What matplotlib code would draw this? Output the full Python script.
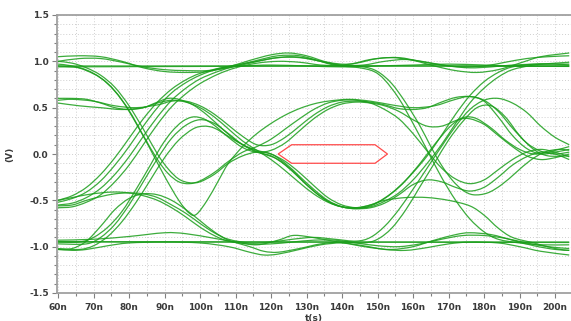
import matplotlib
matplotlib.use("Agg")
import matplotlib.pyplot as plt
import numpy as np
from matplotlib.path import Path
from matplotlib.patches import PathPatch, Polygon

# --- axis text ---
x_ticks = [60, 70, 80, 90, 100, 110, 120, 130, 140, 150, 160, 170, 180, 190, 200]
x_labels = [f"{t}n" for t in x_ticks]
y_ticks = [1.5, 1.0, 0.5, 0.0, -0.5, -1.0, -1.5]
y_labels = ["1.5", "1.0", "0.5", "0.0", "-0.5", "-1.0", "-1.5"]

# --- eye mask (t in ns, V) ---
mask_t = [122.0, 125.8, 149.3, 152.8, 149.3, 125.8]
mask_v = [0.0, 0.1, 0.1, 0.0, -0.1, -0.1]

# --- traces, (t ns, V) ---
flat_top_1 = [(60, 0.95), (204, 0.95)]
flat_top_2 = [(60, 0.94), (100, 0.945), (150, 0.95), (204, 0.945)]
flat_bot_1 = [(60, -0.95), (204, -0.95)]
flat_bot_2 = [(60, -0.945), (204, -0.955)]

top_wave_1 = [(60, 1.05), (66, 1.06), (72, 1.05), (78, 1.0), (84, 0.93), (90, 0.89), (96, 0.88),
              (102, 0.89), (108, 0.94), (114, 1.01), (120, 1.07), (125, 1.09), (130, 1.06), (136, 0.99),
              (142, 0.97), (148, 1.02), (154, 1.04), (160, 1.01), (166, 0.95), (172, 0.9), (178, 0.88),
              (184, 0.91), (190, 0.98), (196, 1.05), (204, 1.09)]
top_wave_2 = [(60, 1.0), (66, 1.03), (72, 1.03), (78, 0.99), (84, 0.94), (90, 0.91), (96, 0.9),
              (102, 0.9), (108, 0.93), (114, 0.98), (120, 1.03), (126, 1.05), (132, 1.02), (138, 0.96),
              (144, 0.98), (150, 1.03), (156, 1.04), (162, 1.0), (168, 0.96), (174, 0.94), (180, 0.95),
              (186, 0.99), (192, 1.03), (198, 1.05), (204, 1.06)]
bot_wave_1 = [(60, -1.03), (64, -1.04), (68, -1.03), (74, -0.99), (80, -0.96), (90, -0.95), (100, -0.96),
              (108, -1.0), (114, -1.06), (118, -1.09), (122, -1.08), (128, -1.03), (134, -0.98),
              (140, -0.96), (146, -0.99), (152, -1.03), (158, -1.04), (164, -1.01), (170, -0.97),
              (176, -0.95), (184, -0.96), (190, -1.0), (196, -1.05), (204, -1.09)]
bot_wave_2 = [(60, -0.93), (70, -0.92), (80, -0.89), (90, -0.85), (96, -0.86), (104, -0.91), (110, -0.95),
              (116, -0.98), (122, -0.93), (126, -0.88), (130, -0.89), (136, -0.93), (142, -0.97),
              (148, -1.01), (154, -1.03), (160, -1.0), (166, -0.93), (172, -0.87), (176, -0.85),
              (182, -0.87), (188, -0.93), (194, -0.99), (200, -1.03), (204, -1.04)]

rise_top_1 = [(60, -0.52), (64, -0.48), (68, -0.41), (72, -0.29), (76, -0.12), (80, 0.08), (84, 0.3),
              (88, 0.5), (92, 0.66), (96, 0.77), (100, 0.85), (105, 0.92), (110, 0.96), (116, 1.0),
              (122, 1.04), (128, 1.04), (134, 1.0), (140, 0.96), (146, 0.96), (152, 1.0), (158, 1.02),
              (164, 0.99), (170, 0.95), (176, 0.93), (182, 0.94), (188, 0.96), (196, 0.97), (204, 0.97)]
rise_top_2 = [(60, -0.55), (64, -0.53), (68, -0.47), (72, -0.37), (76, -0.22), (80, -0.03), (84, 0.19),
              (88, 0.4), (92, 0.58), (96, 0.71), (100, 0.81), (105, 0.89), (110, 0.95), (116, 1.01),
              (122, 1.06), (128, 1.06), (134, 1.0), (140, 0.95), (145, 0.93), (149, 0.89), (152, 0.8),
              (156, 0.6), (160, 0.33), (164, 0.04), (168, -0.25), (172, -0.5), (176, -0.7), (180, -0.84),
              (184, -0.92), (190, -0.96), (196, -0.98), (204, -0.98)]
rise_top_3 = [(60, -0.58), (64, -0.57), (68, -0.52), (72, -0.44), (76, -0.3), (80, -0.12), (84, 0.1),
              (88, 0.32), (92, 0.51), (96, 0.65), (100, 0.76), (105, 0.86), (110, 0.93), (116, 0.98),
              (122, 1.0), (128, 0.99), (134, 0.96), (140, 0.95), (146, 0.94), (150, 0.89), (154, 0.76),
              (158, 0.55), (162, 0.3), (165, 0.08), (168, -0.12), (171, -0.28), (174, -0.39), (177, -0.44),
              (181, -0.42), (185, -0.33), (189, -0.2), (193, -0.07), (197, 0.02), (201, 0.05), (204, 0.04)]
rise_top_4 = [(60, -0.5), (64, -0.45), (68, -0.36), (72, -0.22), (76, -0.04), (80, 0.17), (84, 0.38),
              (88, 0.56), (92, 0.7), (96, 0.8), (100, 0.87), (106, 0.93), (112, 0.95), (120, 0.96),
              (130, 0.95), (140, 0.94), (150, 0.95), (160, 0.96), (170, 0.97), (180, 0.96), (190, 0.95),
              (204, 0.95)]

fall_u_1 = [(60, 0.97), (64, 0.95), (68, 0.9), (72, 0.82), (76, 0.68), (80, 0.47), (84, 0.2), (88, -0.06),
            (91, -0.21), (94, -0.3), (97, -0.32), (100, -0.29), (104, -0.2), (108, -0.08), (112, 0.02),
            (116, 0.08), (120, 0.16), (124, 0.27), (128, 0.38), (132, 0.48), (136, 0.55), (140, 0.58),
            (144, 0.58), (148, 0.55), (152, 0.48), (156, 0.38), (160, 0.22), (164, 0.03), (168, -0.15),
            (172, -0.27), (176, -0.32), (180, -0.28), (184, -0.17), (188, -0.06), (192, 0.02),
            (196, 0.05), (200, 0.02), (204, -0.03)]
fall_u_2 = [(60, 1.0), (64, 0.98), (68, 0.93), (72, 0.85), (76, 0.72), (80, 0.52), (84, 0.27), (88, 0.0),
            (91, -0.16), (94, -0.27), (97, -0.31), (100, -0.3), (104, -0.22), (108, -0.1), (112, -0.02),
            (116, 0.02), (120, 0.0), (124, -0.1), (128, -0.24), (132, -0.38), (136, -0.5), (140, -0.57),
            (144, -0.59), (148, -0.56), (152, -0.48), (156, -0.36), (160, -0.2), (164, -0.02),
            (168, 0.2), (172, 0.43), (176, 0.63), (180, 0.78), (184, 0.88), (188, 0.94), (194, 0.97),
            (200, 0.97), (204, 0.96)]
fall_v_1 = [(60, 0.95), (66, 0.93), (70, 0.87), (74, 0.76), (78, 0.58), (82, 0.33), (86, 0.05), (90, -0.24),
            (94, -0.5), (97, -0.64), (99, -0.65), (102, -0.5), (105, -0.3), (108, -0.1), (112, 0.08),
            (116, 0.22), (120, 0.33), (124, 0.42), (128, 0.49), (132, 0.54), (136, 0.57), (142, 0.59),
            (148, 0.57), (154, 0.53), (160, 0.5), (166, 0.52), (172, 0.59), (176, 0.62), (180, 0.57),
            (184, 0.4), (188, 0.2), (192, 0.06), (196, 0.0), (200, 0.02), (204, 0.05)]

mid_hi_1 = [(60, 0.6), (64, 0.6), (68, 0.59), (72, 0.55), (76, 0.5), (80, 0.48), (84, 0.5), (88, 0.56),
            (91, 0.6), (94, 0.59), (98, 0.53), (102, 0.42), (106, 0.28), (110, 0.15), (114, 0.06),
            (118, 0.0), (122, -0.06), (126, -0.18), (130, -0.33), (134, -0.46), (138, -0.55),
            (142, -0.58), (146, -0.57), (150, -0.52), (154, -0.42), (158, -0.28), (162, -0.1),
            (166, 0.1), (170, 0.28), (173, 0.37), (176, 0.38), (180, 0.32), (184, 0.2), (188, 0.08),
            (192, -0.02), (196, -0.06), (200, -0.04), (204, 0.0)]
mid_hi_2 = [(60, 0.55), (66, 0.52), (72, 0.5), (78, 0.48), (84, 0.5), (88, 0.55), (92, 0.58), (96, 0.56),
            (100, 0.5), (104, 0.4), (108, 0.27), (112, 0.14), (116, 0.04), (120, -0.06), (124, -0.18),
            (128, -0.31), (132, -0.43), (136, -0.52), (140, -0.57), (144, -0.58), (148, -0.55),
            (152, -0.5), (158, -0.47), (164, -0.47), (170, -0.5), (176, -0.56), (180, -0.66),
            (184, -0.8), (188, -0.9), (194, -0.96), (200, -1.02), (204, -1.04)]
mid_hi_3 = [(60, 0.58), (64, 0.59), (70, 0.57), (76, 0.52), (82, 0.5), (88, 0.53), (92, 0.57), (96, 0.57),
            (100, 0.52), (104, 0.43), (108, 0.31), (112, 0.19), (116, 0.1), (120, 0.1), (124, 0.18),
            (128, 0.3), (132, 0.42), (136, 0.51), (140, 0.56), (144, 0.57), (148, 0.56), (152, 0.53),
            (156, 0.49), (160, 0.48), (164, 0.5), (168, 0.56), (172, 0.61), (176, 0.62), (180, 0.58),
            (184, 0.46), (188, 0.28), (192, 0.12), (196, 0.03), (200, 0.0), (204, 0.02)]

rise_mid_1 = [(60, -0.95), (66, -0.95), (70, -0.9), (74, -0.79), (78, -0.62), (82, -0.38), (86, -0.12),
              (89, 0.08), (92, 0.24), (95, 0.35), (98, 0.4), (101, 0.38), (104, 0.31), (108, 0.18),
              (112, 0.07), (116, 0.02), (120, 0.04), (124, 0.12), (128, 0.25), (132, 0.38), (136, 0.48),
              (140, 0.54), (144, 0.56), (148, 0.55), (152, 0.52), (156, 0.46), (160, 0.37), (164, 0.3),
              (168, 0.3), (172, 0.36), (175, 0.4), (178, 0.38), (182, 0.28), (186, 0.15), (190, 0.05),
              (194, 0.0), (198, 0.02), (204, 0.08)]
rise_mid_2 = [(60, -1.02), (66, -1.03), (70, -0.99), (74, -0.89), (78, -0.73), (82, -0.52), (86, -0.28),
              (90, -0.04), (94, 0.15), (98, 0.27), (101, 0.3), (104, 0.28), (108, 0.19), (112, 0.1),
              (116, 0.04), (120, 0.0), (124, -0.08), (128, -0.2), (132, -0.34), (136, -0.47),
              (140, -0.55), (144, -0.58), (148, -0.57), (152, -0.51), (156, -0.42), (160, -0.28),
              (164, -0.1), (168, 0.1), (172, 0.33), (176, 0.55), (180, 0.71), (184, 0.83), (188, 0.91),
              (194, 0.96), (200, 0.98), (204, 0.99)]
rise_mid_3 = [(60, -0.97), (68, -0.97), (72, -0.9), (76, -0.76), (80, -0.55), (84, -0.3), (88, -0.05),
              (92, 0.17), (96, 0.31), (100, 0.37), (104, 0.33), (108, 0.22), (112, 0.1), (116, 0.02),
              (120, -0.02), (124, -0.12), (128, -0.26), (132, -0.4), (136, -0.51), (140, -0.57),
              (144, -0.59), (148, -0.58), (152, -0.53), (156, -0.44), (160, -0.33), (164, -0.28),
              (168, -0.3), (172, -0.36), (176, -0.4), (180, -0.36), (184, -0.25), (188, -0.12),
              (192, -0.03), (196, 0.02), (200, 0.0), (204, -0.06)]

mid_lo_1 = [(60, -0.5), (64, -0.47), (68, -0.44), (72, -0.42), (76, -0.41), (80, -0.42), (84, -0.45),
            (88, -0.5), (92, -0.58), (96, -0.68), (100, -0.79), (104, -0.88), (108, -0.94), (114, -0.97),
            (120, -0.97), (126, -0.95), (132, -0.93), (138, -0.93), (144, -0.96), (150, -0.99),
            (156, -1.0), (162, -0.97), (168, -0.92), (174, -0.88), (180, -0.88), (186, -0.91),
            (192, -0.96), (198, -1.0), (204, -1.02)]
mid_lo_2 = [(60, -1.03), (64, -1.02), (68, -0.94), (72, -0.78), (76, -0.6), (80, -0.48), (84, -0.43),
            (88, -0.44), (92, -0.5), (96, -0.6), (100, -0.72), (104, -0.84), (108, -0.93), (114, -1.0),
            (118, -1.05), (122, -1.06), (128, -1.02), (134, -0.97), (140, -0.95), (146, -0.96),
            (150, -0.92), (154, -0.8), (158, -0.6), (162, -0.35), (166, -0.1), (170, 0.15), (174, 0.35),
            (178, 0.5), (182, 0.52), (186, 0.4), (190, 0.2), (194, 0.05), (198, -0.02), (204, -0.02)]
mid_lo_3 = [(60, -0.56), (64, -0.55), (68, -0.5), (72, -0.46), (76, -0.43), (80, -0.42), (84, -0.43),
            (88, -0.47), (92, -0.55), (96, -0.64), (100, -0.75), (104, -0.85), (108, -0.92), (114, -0.96),
            (120, -0.95), (126, -0.92), (132, -0.9), (138, -0.92), (144, -0.94), (148, -0.9),
            (152, -0.78), (156, -0.6), (160, -0.38), (164, -0.15), (168, 0.08), (172, 0.3), (176, 0.48),
            (180, 0.58), (184, 0.6), (188, 0.55), (192, 0.45), (196, 0.3), (200, 0.18), (204, 0.1)]

traces = [flat_top_1, flat_top_2, flat_bot_1, flat_bot_2, top_wave_1, top_wave_2, bot_wave_1, bot_wave_2,
          rise_top_1, rise_top_2, rise_top_3, rise_top_4, fall_u_1, fall_u_2, fall_v_1,
          mid_hi_1, mid_hi_2, mid_hi_3, rise_mid_1, rise_mid_2, rise_mid_3, mid_lo_1, mid_lo_2, mid_lo_3]

GREEN = "#1a9e1a"
TEXT = "#3a3a3a"


def smooth_path(points):
    # Catmull-Rom through the read points, drawn as cubic Bezier segments
    pts = np.asarray(points, dtype=float)
    n = len(pts)
    verts = [pts[0]]
    codes = [Path.MOVETO]
    for i in range(n - 1):
        p0 = pts[i - 1] if i > 0 else pts[i]
        p1, p2 = pts[i], pts[i + 1]
        p3 = pts[i + 2] if i + 2 < n else pts[i + 1]
        verts += [p1 + (p2 - p0) / 6, p2 - (p3 - p1) / 6, p2]
        codes += [Path.CURVE4] * 3
    return Path(verts, codes)


fig = plt.figure(figsize=(5.71, 3.21), dpi=100)
ax = fig.add_axes([57 / 571, 1 - 293 / 321, 514 / 571, 278 / 321])

ax.set_xlim(59.7, 204.5)
ax.set_ylim(-1.5, 1.5)

ax.set_xticks(x_ticks)
ax.set_xticklabels(x_labels)
ax.set_xticks(np.arange(65, 205, 10), minor=True)
ax.set_yticks(y_ticks)
ax.set_yticklabels(y_labels)
ax.set_yticks(np.arange(-1.4, 1.45, 0.1), minor=True)

ax.grid(which="both", color="#cfcfcf", linestyle=(0, (1, 2)), linewidth=0.7)
ax.set_axisbelow(True)

for side in ["left", "bottom", "top"]:
    ax.spines[side].set_color("#a0a0a0")
    ax.spines[side].set_linewidth(1.3)
ax.spines["right"].set_visible(False)

ax.tick_params(which="both", direction="out", color="#808080", width=0.8)
ax.tick_params(which="major", length=3.5, pad=2.5, labelsize=6.5, labelcolor=TEXT)
ax.tick_params(which="minor", length=2.5)
ax.tick_params(axis="x", which="major", pad=4)
for lbl in ax.get_xticklabels() + ax.get_yticklabels():
    lbl.set_fontweight("bold")

for tr in traces:
    ax.add_patch(PathPatch(smooth_path(tr), fill=False, edgecolor=GREEN, lw=0.9, alpha=0.85))

ax.add_patch(Polygon(np.column_stack([mask_t, mask_v]), closed=True, fill=False,
                     edgecolor="#ff4a4a", lw=0.9))

ax.set_xlabel("t(s)", fontsize=6.5, fontweight="bold", color=TEXT, labelpad=1)
ax.set_ylabel("(V)", fontsize=6.5, fontweight="bold", color=TEXT)
ax.yaxis.set_label_coords(-0.083, 0.5)

fig.savefig("out.png", dpi=100)
